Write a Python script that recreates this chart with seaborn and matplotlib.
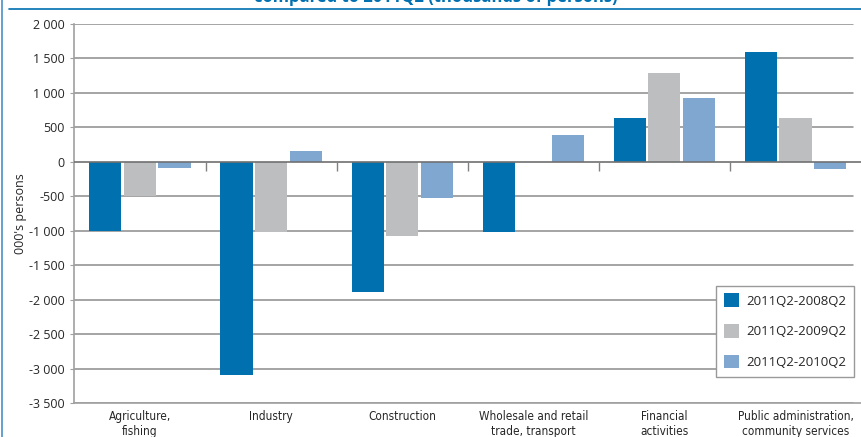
import numpy as np
import pandas as pd
import matplotlib
matplotlib.use("Agg")
import matplotlib.pyplot as plt
import seaborn as sns
from matplotlib.ticker import FuncFormatter
from matplotlib.lines import Line2D

# data (thousands of persons)
categories = ["Agriculture,\nfishing", "Industry", "Construction",
              "Wholesale and retail\ntrade, transport", "Financial\nactivities",
              "Public administration,\ncommunity services"]
series = ["2011Q2-2008Q2", "2011Q2-2009Q2", "2011Q2-2010Q2"]
chg_2008 = [-1000, -3100, -1890, -1015, 635, 1595]
chg_2009 = [-500, -1020, -1070, 0, 1290, 635]
chg_2010 = [-95, 160, -520, 390, 930, -110]
colors = ["#0070af", "#bcbec0", "#80a7d0"]

df = pd.DataFrame({
    "sector": categories * 3,
    "period": np.repeat(series, len(categories)),
    "value": chg_2008 + chg_2009 + chg_2010,
})

sns.set_style("white")
plt.rcParams["font.family"] = ["Open Sans", "DejaVu Sans"]

fig = plt.figure(figsize=(8.61, 4.37), dpi=100)
ax = fig.add_axes([74.4 / 861, 34 / 437, 1 - 74.4 / 861, 379 / 437])

sns.barplot(data=df, x="sector", y="value", hue="period", palette=colors,
            width=0.79, gap=0.07, saturation=1, linewidth=0, ax=ax, zorder=3)

ax.set_xlim(-0.5, len(categories) - 0.5)
ax.set_ylim(-3500, 2000)
ax.set_yticks(np.arange(-3500, 2001, 500))
ax.yaxis.set_major_formatter(FuncFormatter(lambda v, p: f"{int(v):,}".replace(",", " ")))
for v in ax.get_yticks():
    if v != 0:
        ax.axhline(v, xmax=0.99, color="#8c8c8c", linewidth=1.1, zorder=0)
ax.axhline(0, color="#707070", linewidth=1.2, zorder=4)

# small separators on the zero line between categories
bounds = np.arange(len(categories) - 1) + 0.5
ax.vlines(bounds, -140, 0, color="#808080", linewidth=1, zorder=4)

for s in ["top", "right"]:
    ax.spines[s].set_visible(False)
for s in ["left", "bottom"]:
    ax.spines[s].set_color("#a0a0a0")
    ax.spines[s].set_linewidth(1.2)

ax.tick_params(axis="y", labelsize=9, length=3, color="#a0a0a0", left=True, pad=4)
ax.tick_params(axis="x", length=0, pad=5)
for lbl in ax.get_xticklabels():
    lbl.set_family(["DejaVu Sans"])
    lbl.set_stretch("condensed")
    lbl.set_fontsize(8.5)
    lbl.set_linespacing(1.2)
ax.set_xlabel("")
ax.set_ylabel("000's persons", fontsize=9)
ax.yaxis.set_label_coords(-0.06, 0.5)

leg = ax.legend(loc="lower right", bbox_to_anchor=(854 / 861, 60 / 437),
                bbox_transform=fig.transFigure, fontsize=9.5, frameon=True,
                fancybox=False, edgecolor="#999999", framealpha=1,
                handlelength=1.2, handleheight=1.2, labelspacing=1.25,
                handletextpad=0.5, borderpad=0.6, borderaxespad=0, title=None)
leg.get_frame().set_linewidth(1)

# clipped title and frame decoration
fig.text(436 / 861, 1 - 1.5 / 437, "compared to 2011Q2 (thousands of persons)",
         ha="center", va="baseline", fontsize=12, fontweight="bold", color="#0070b0")
fig.add_artist(Line2D([9 / 861, 1], [1 - 8.5 / 437] * 2, color="#0070b0", linewidth=1.2,
                      transform=fig.transFigure))
fig.add_artist(Line2D([1.5 / 861] * 2, [0, 1], color="#4a90c8", linewidth=1.2,
                      transform=fig.transFigure))

fig.savefig("out.png", dpi=100)
